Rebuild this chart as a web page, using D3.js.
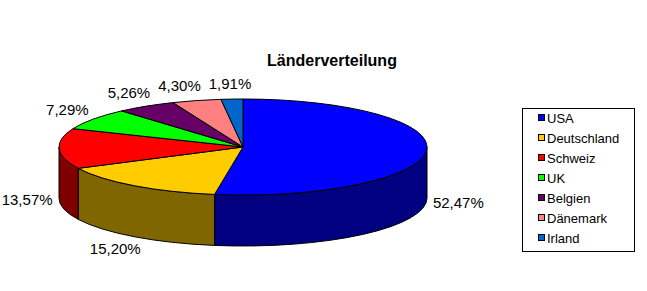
<!DOCTYPE html>
<html>
<head>
<meta charset="utf-8">
<script src="https://cdn.jsdelivr.net/npm/d3@7"></script>
<style>
  body { margin: 0; background: #fff; }
  svg { display: block; font-family: "Liberation Sans", Arial, sans-serif; }
</style>
</head>
<body>
<svg id="chart"></svg>
<script>
// Länderverteilung — 3D pie, Excel style

const countries = ['USA', 'Deutschland', 'Schweiz', 'UK', 'Belgien', 'Dänemark', 'Irland'];
const shares = [52.47, 15.20, 13.57, 7.29, 5.26, 4.30, 1.91];
const topColors = ['#0000ff', '#ffcc00', '#ff0000', '#00ff00', '#660066', '#ff8080', '#0066cc'];
const sideColors = ['#000080', '#806600', '#800000', '#008000', '#330033', '#804040', '#003366'];

const width = 647;
const height = 291;

const svg = d3.select('#chart')
  .attr('width', width)
  .attr('height', height);

// pie geometry (top ellipse + wall depth)
const cx = 243, cy = 147;
const rx = 184, ry = 48;
const depth = 51;

const de = d3.formatLocale({ decimal: ',', thousands: '.', grouping: [3], currency: ['', ' €'] });
const pct = v => de.format('.2f')(v) + '%';

const arcs = d3.pie().sort(null).value(d => d)(shares);

// angle measured from 12 o'clock, clockwise
const pt = (a, dy = 0) => [cx + rx * Math.sin(a), cy - ry * Math.cos(a) + dy];

function topPath(d) {
  const p0 = pt(d.startAngle), p1 = pt(d.endAngle);
  const large = d.endAngle - d.startAngle > Math.PI ? 1 : 0;
  return `M${cx},${cy}L${p0}A${rx},${ry} 0 ${large} 1 ${p1}Z`;
}

// visible outer wall: part of the slice between 90° and 270°
function wallPath(d) {
  const t0 = Math.max(d.startAngle, Math.PI / 2);
  const t1 = Math.min(d.endAngle, Math.PI * 1.5);
  if (t1 <= t0) return null;
  const a = pt(t0), b = pt(t1), b2 = pt(t1, depth), a2 = pt(t0, depth);
  return `M${a}A${rx},${ry} 0 0 1 ${b}L${b2}A${rx},${ry} 0 0 0 ${a2}Z`;
}

const g = svg.append('g');

g.selectAll('path.wall')
  .data(arcs.filter(d => wallPath(d)))
  .join('path')
    .attr('class', 'wall')
    .attr('d', wallPath)
    .attr('fill', d => sideColors[d.index])
    .attr('stroke', '#000')
    .attr('stroke-width', 1)
    .attr('stroke-linejoin', 'round');

g.selectAll('path.top')
  .data(arcs)
  .join('path')
    .attr('class', 'top')
    .attr('d', topPath)
    .attr('fill', d => topColors[d.index])
    .attr('stroke', '#000')
    .attr('stroke-width', 1)
    .attr('stroke-linejoin', 'round');

// data labels on a wider ellipse round the pie
const lrx = 216, lry = 63;
const labels = arcs.map(d => {
  const m = (d.startAngle + d.endAngle) / 2;
  const c = Math.cos(m);
  return {
    d,
    x: cx + lrx * Math.sin(m),
    y: cy - lry * c + (c < 0 ? depth : 0) + 5,
    upper: c > 0
  };
});

const lbl = g.selectAll('text.lbl')
  .data(labels)
  .join('text')
    .attr('class', 'lbl')
    .attr('text-anchor', 'middle')
    .attr('font-size', 15)
    .attr('fill', '#000')
    .text(l => pct(l.d.data));

// push crowded labels along the top apart (right to left)
lbl.each(function (l) { l.w = this.getComputedTextLength(); });
const upper = labels.filter(l => l.upper).sort((a, b) => b.x - a.x);
for (let i = 1; i < upper.length; i++) {
  const prev = upper[i - 1], cur = upper[i];
  const maxX = prev.x - prev.w / 2 - 8 - cur.w / 2;
  if (cur.x > maxX) cur.x = maxX;
}
lbl.attr('x', l => l.x).attr('y', l => l.y);

// title
svg.append('text')
  .attr('x', 332)
  .attr('y', 66)
  .attr('text-anchor', 'middle')
  .attr('font-size', 16)
  .attr('font-weight', 'bold')
  .text('Länderverteilung');

// legend
const legend = svg.append('g');
legend.append('rect')
  .attr('x', 522.5).attr('y', 108.5)
  .attr('width', 112).attr('height', 143)
  .attr('fill', '#fff').attr('stroke', '#000').attr('stroke-width', 1);

const rowY = d3.scalePoint().domain(countries).range([118, 238]);

const items = legend.selectAll('g.item')
  .data(countries)
  .join('g')
    .attr('class', 'item')
    .attr('transform', d => `translate(0,${rowY(d)})`);

items.append('rect')
  .attr('x', 538.5).attr('y', -3.5)
  .attr('width', 6).attr('height', 6)
  .attr('fill', (d, i) => topColors[i])
  .attr('stroke', '#000').attr('stroke-width', 1);

items.append('text')
  .attr('x', 547)
  .attr('y', 5)
  .attr('font-size', 13)
  .text(d => d);
</script>
</body>
</html>
